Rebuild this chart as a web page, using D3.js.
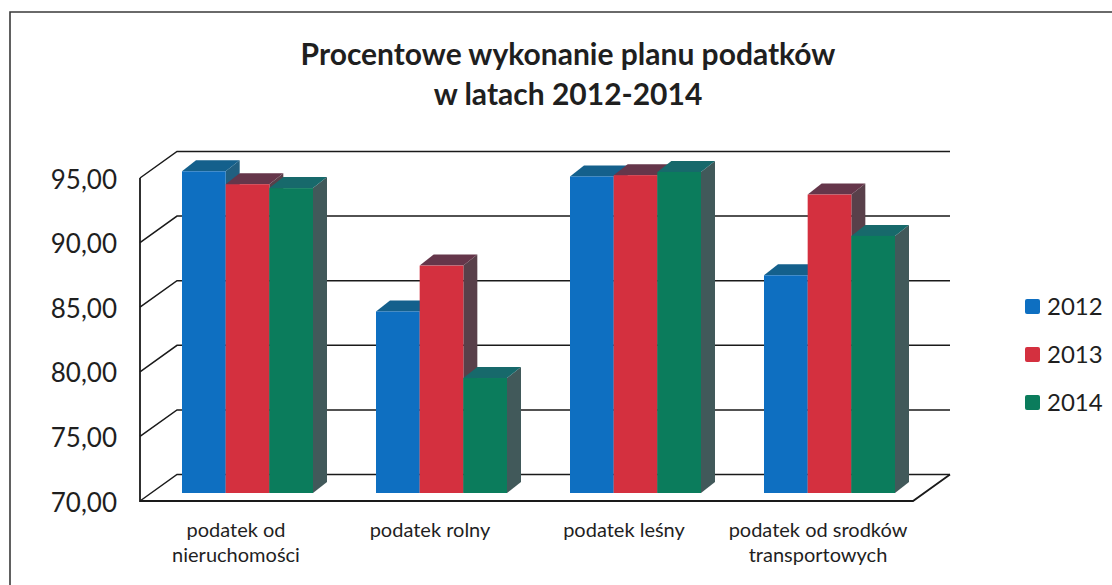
<!DOCTYPE html>
<html><head><meta charset="utf-8">
<script src="https://cdn.jsdelivr.net/npm/d3@7"></script>
<style>html,body{margin:0;padding:0;background:#fff}svg{display:block}text{font-family:Lato,"Open Sans",sans-serif;fill:#1f1f1f}</style>
</head><body><svg id="c" width="1112" height="585"></svg>
<script>
const categories=[["podatek od","nieruchomości"],["podatek rolny"],["podatek leśny"],["podatek od srodków","transportowych"]];
const categoryKeys=["nieruchomosci","rolny","lesny","transport"];
const years=["2012","2013","2014"];
const values2012=[94.9,84.05,94.5,86.85];
const values2013=[93.9,87.6,94.6,93.1];
const values2014=[93.6,78.9,94.85,89.9];
const yTicks=[70,75,80,85,90,95];
const titleLines=["Procentowe wykonanie planu podatków","w latach 2012-2014"];
const series=[values2012,values2013,values2014];
const faceColors=["#0e6fc1","#d4303f","#0b7c5c"];
const topColors=["#14608c","#65364a","#17696b"];
const sideColors=["#215f80","#59404a","#41595a"];

const svg=d3.select("#c");
const fmt=v=>v.toFixed(2).replace(".",",");
const y=d3.scaleLinear().domain([70,95]).range([501,178]);
const x=d3.scaleBand().domain(categoryKeys).range([139,915]);
const x1=d3.scaleBand().domain(years).range([0,131]);
const wall={dx:37,dy:-26.5};
const barFront={dx:11,dy:-8};
const barBack={dx:25,dy:-19};
const line=d3.line();

// page frame
svg.append("path").attr("d",line([[10,585],[10,12],[1112,12]])).attr("fill","none").attr("stroke","#3a3a3a").attr("stroke-width",1.6);

// title
svg.append("g").selectAll("text").data(titleLines).join("text")
 .attr("x",568).attr("y",(d,i)=>65+i*39.5).attr("text-anchor","middle")
 .attr("font-size",30).attr("font-weight",700).text(d=>d);

// walls and gridlines
const gx0=140, gx1=913;
const g=svg.append("g").attr("fill","none").attr("stroke","#1a1a1a").attr("stroke-width",1.5);
yTicks.forEach(t=>{
  const yy=y(t);
  g.append("path").attr("d",line([[gx0,yy],[gx0+wall.dx,yy+wall.dy],[gx1+wall.dx,yy+wall.dy]]));
});
g.append("path").attr("d",line([[gx0,y(95)],[gx0,y(70)],[gx1,y(70)],[gx1+wall.dx,y(70)+wall.dy]])).attr("stroke-width",1.8);

// axis labels
svg.append("g").selectAll("text").data(yTicks).join("text")
 .attr("x",117).attr("y",d=>y(d)+10.5).attr("text-anchor","end")
 .attr("font-size",26).text(fmt);

// bars
categoryKeys.forEach((c,ci)=>{
  years.forEach((yr,si)=>{
    const l=x(c)+32+barFront.dx+x1(yr), w=x1.bandwidth();
    const base=y(70)+barFront.dy, top=y(series[si][ci])+barFront.dy;
    const d=barBack.dx-barFront.dx, e=barBack.dy-barFront.dy;
    const b=svg.append("g");
    b.append("path").attr("fill",sideColors[si]).attr("d",line([[l+w,top],[l+w+d,top+e],[l+w+d,base+e],[l+w,base]])+"Z");
    b.append("path").attr("fill",topColors[si]).attr("d",line([[l,top],[l+d,top+e],[l+w+d,top+e],[l+w,top]])+"Z");
    b.append("rect").attr("x",l).attr("y",top).attr("width",w).attr("height",base-top).attr("fill",faceColors[si]);
  });
});

// category labels
categoryKeys.forEach((c,i)=>{
  svg.append("g").selectAll("text").data(categories[i]).join("text")
   .attr("x",x(c)+x.bandwidth()/2).attr("y",(d,j)=>537+j*25).attr("text-anchor","middle")
   .attr("font-size",20).text(d=>d);
});

// legend
const ly=d3.scalePoint().domain(years).range([306,402]);
const leg=svg.append("g").selectAll("g").data(years).join("g");
leg.append("rect").attr("x",1025).attr("y",d=>ly(d)-7).attr("width",15).attr("height",15).attr("rx",2).attr("fill",(d,i)=>faceColors[i]);
leg.append("text").attr("x",1047).attr("y",d=>ly(d)+9).attr("font-size",24).text(d=>d);
</script></body></html>
